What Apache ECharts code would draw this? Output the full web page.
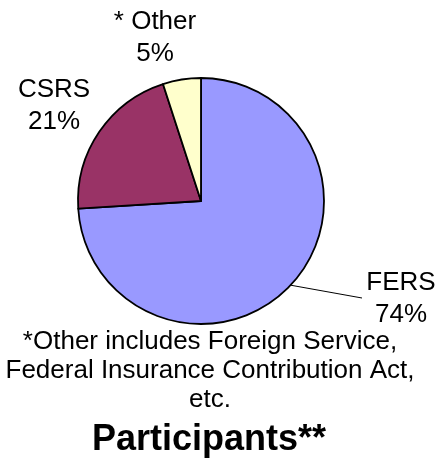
<!DOCTYPE html>
<html>
	<head>
		<meta charset="utf-8">
		<title>Participants</title>
		<script src="https://cdn.jsdelivr.net/npm/echarts@6/dist/echarts.min.js"></script>
		<style>
			html, body {
				margin: 0;
				padding: 0;
				background: #fff;
			}

			#chart {
				width: 437px;
				height: 467px;
			}
		</style>
	</head>
	<body>
		<div id="chart"></div>
		<script>
			// 数据
			var names = ['FERS', 'CSRS', '* Other'];
			var values = [74, 21, 5];
			var colors = ['#9999FF', '#993366', '#FFFFCC'];
			var footnote = ['*Other includes Foreign Service,', 'Federal Insurance Contribution Act,', 'etc.'];
			var chartTitle = 'Participants**';

			// label centres (px), same order as names
			var labelAt = [[401, 299], [54, 106], [155, 38]];

			var font = '"Liberation Sans", Arial, sans-serif';

			var data = [];
			for (var i = 0; i < names.length; i++) {
				data.push({
					name: names[i],
					value: values[i],
					itemStyle: {
						color: colors[i]
					},
					labelLine: {
						show: i == 0
					}
				});
			}

			var myChart = echarts.init(document.getElementById('chart'));
			var option = {
				animation: false,
				backgroundColor: '#fff',
				series: [{
					type: 'pie',
					center: [201, 201],
					radius: 123,
					startAngle: 90,
					clockwise: true,
					data: data,
					itemStyle: {
						borderColor: '#000',
						borderWidth: 1.8
					},
					emphasis: {
						disabled: true
					},
					label: {
						show: true,
						position: 'outside',
						formatter: '{b}\n{d}%',
						color: '#000',
						fontFamily: font,
						fontSize: 26,
						lineHeight: 32,
						overflow: 'none',
						edgeDistance: 0
					},
					labelLine: {
						lineStyle: {
							color: '#000',
							width: 1
						}
					},
					labelLayout: function(params) {
						var p = labelAt[params.dataIndex];
						var out = {
							x: p[0],
							y: p[1],
							align: 'center',
							verticalAlign: 'middle'
						};
						if (params.dataIndex == 0 && params.labelLinePoints) {
							var s = params.labelLinePoints[0];
							out.labelLinePoints = [s, [362, 298], [362, 298]];
						}
						return out;
					}
				}],
				graphic: [{
					type: 'text',
					style: {
						text: footnote.join('\n'),
						x: 210,
						y: 327,
						align: 'center',
						verticalAlign: 'top',
						font: '26px ' + font,
						lineHeight: 29,
						fill: '#000'
					}
				}, {
					type: 'text',
					style: {
						text: chartTitle,
						x: 209,
						y: 440,
						align: 'center',
						verticalAlign: 'middle',
						font: 'bold 36px ' + font,
						fill: '#000'
					}
				}]
			};
			myChart.setOption(option);
		</script>
	</body>
</html>
